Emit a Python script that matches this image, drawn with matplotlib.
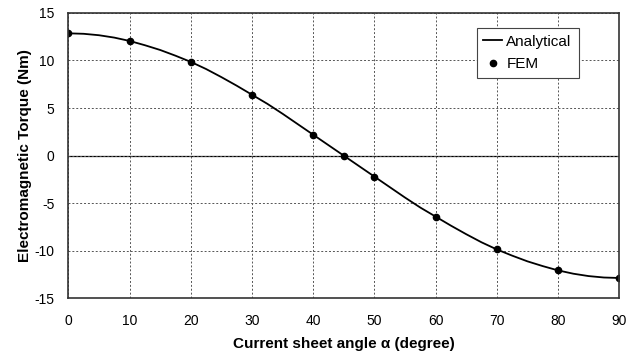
import matplotlib.pyplot as plt
import numpy as np

plt.rcParams['font.family'] = ['Liberation Sans', 'DejaVu Sans']
plt.rcParams['axes.unicode_minus'] = False

# analytical curve, read every 2.5 degrees
ana_angle = [0, 2.5, 5, 7.5, 10, 12.5, 15, 17.5, 20, 22.5, 25, 27.5, 30, 32.5, 35, 37.5,
             40, 42.5, 45, 47.5, 50, 52.5, 55, 57.5, 60, 62.5, 65, 67.5, 70, 72.5, 75,
             77.5, 80, 82.5, 85, 87.5, 90]
ana_torque = [12.85, 12.8, 12.65, 12.4, 12.05, 11.6, 11.1, 10.5, 9.85, 9.1, 8.25, 7.35,
              6.4, 5.45, 4.4, 3.3, 2.2, 1.1, 0.0, -1.1, -2.2, -3.3, -4.4, -5.45, -6.4,
              -7.35, -8.25, -9.1, -9.85, -10.5, -11.1, -11.6, -12.05, -12.4, -12.65,
              -12.8, -12.85]

# FEM points
fem_angle = [0, 10, 20, 30, 40, 45, 50, 60, 70, 80, 90]
fem_torque = [12.85, 12.05, 9.85, 6.4, 2.2, 0.0, -2.2, -6.4, -9.8, -12.0, -12.8]

fig = plt.figure(figsize=(6.39, 3.57), dpi=100)
ax = fig.add_axes([0.107, 0.164, 0.862, 0.800])

ax.plot(ana_angle, ana_torque, color='black', lw=1.3, label='Analytical')
ax.plot(fem_angle, fem_torque, 'o', color='black', ms=4.5, label='FEM')
ax.axhline(0, color='black', lw=0.9, zorder=1)

ax.set_xlim(0, 90)
ax.set_ylim(-15, 15)
ax.set_xticks(np.arange(0, 91, 10))
ax.set_yticks(np.arange(-15, 16, 5))
ax.grid(True, color='#555555', ls=(0, (2, 2)), lw=0.7)
ax.tick_params(axis='x', length=0, labelsize=10, pad=11)
ax.tick_params(axis='y', length=0, labelsize=10, pad=10)
for s in ax.spines.values():
    s.set_color('#333333')
    s.set_linewidth(1.2)

ax.set_xlabel('Current sheet angle α (degree)', fontsize=11, fontweight='bold', labelpad=7)
ax.set_ylabel('Electromagnetic Torque (Nm)', fontsize=11, fontweight='bold', labelpad=2)

leg = ax.legend(loc='upper right', bbox_to_anchor=(0.94, 0.975), fontsize=11,
                fancybox=False, framealpha=1, edgecolor='#444444',
                handlelength=1.2, handletextpad=0.3, borderpad=0.45, labelspacing=0.55)
leg.get_frame().set_linewidth(0.8)

fig.savefig('out.png', dpi=100)
